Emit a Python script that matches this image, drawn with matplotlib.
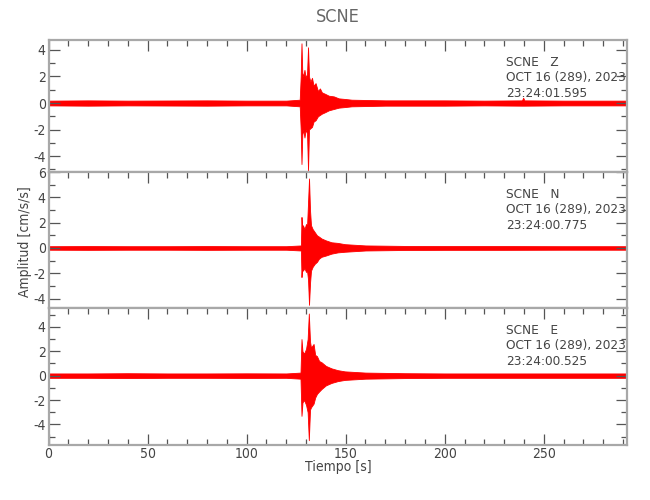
import matplotlib
matplotlib.use("Agg")
import matplotlib.pyplot as plt
from matplotlib.ticker import MultipleLocator

plt.rcParams['font.family'] = ['DejaVu Sans']
plt.rcParams['font.stretch'] = 'condensed'
plt.rcParams['axes.unicode_minus'] = False

station = "SCNE"
channels = ["Z", "N", "E"]
start_times = ["23:24:01.595", "23:24:00.775", "23:24:00.525"]
date_label = "OCT 16 (289), 2023"

# envelopes of the traces (time s, upper, lower in cm/s/s)
t_z = [0, 20, 40, 60, 80, 100, 120, 126.8, 127.3, 127.7, 128.1, 128.6, 129.2, 129.8, 130.5,
       131.0, 131.5, 132.2, 133.0, 133.8, 134.8, 136.0, 137.0, 138.0, 139.5, 141.5, 144.0,
       146.5, 150, 153, 170, 200, 220, 239.0, 239.6, 240.2, 260, 292]
up_z = [0.18, 0.2, 0.18, 0.19, 0.2, 0.18, 0.18, 0.25, 2.0, 4.5, 2.3, 2.0, 2.5, 1.9, 2.2,
        4.2, 2.0, 1.6, 1.9, 1.3, 1.5, 0.9, 1.1, 0.8, 0.7, 0.55, 0.5,
        0.35, 0.3, 0.25, 0.2, 0.2, 0.18, 0.2, 0.4, 0.2, 0.18, 0.18]
lo_z = [-0.18, -0.2, -0.18, -0.19, -0.2, -0.18, -0.18, -0.25, -2.0, -4.6, -2.4, -2.0, -2.6, -2.0, -2.3,
        -5.1, -2.0, -1.9, -1.8, -1.4, -1.3, -1.0, -0.9, -0.8, -0.7, -0.55, -0.45,
        -0.35, -0.3, -0.25, -0.2, -0.2, -0.18, -0.2, -0.2, -0.2, -0.18, -0.18]

t_n = [0, 20, 40, 60, 80, 100, 120, 127.4, 127.7, 128.0, 128.4, 129.2, 130.0, 130.5, 131.0,
       131.5, 132.0, 132.5, 133.3, 134.4, 135.5, 136.5, 137.8, 140.0, 142.8, 146.0, 149.6,
       160, 180, 200, 230, 260, 292]
up_n = [0.14, 0.15, 0.14, 0.14, 0.15, 0.14, 0.14, 0.2, 2.45, 1.6, 1.8, 1.5, 1.9, 1.7, 3.6,
        5.5, 3.0, 1.8, 1.5, 1.25, 1.0, 0.9, 0.75, 0.6, 0.45, 0.4, 0.3,
        0.2, 0.16, 0.15, 0.15, 0.14, 0.14]
lo_n = [-0.14, -0.15, -0.14, -0.14, -0.15, -0.14, -0.14, -0.2, -2.3, -1.6, -1.8, -1.6, -1.9, -1.8, -2.5,
        -4.5, -2.8, -1.8, -1.5, -1.25, -1.1, -0.85, -0.7, -0.6, -0.45, -0.35, -0.3,
        -0.2, -0.16, -0.15, -0.15, -0.14, -0.14]

t_e = [0, 20, 40, 60, 80, 100, 120, 127.2, 127.7, 128.2, 129.0, 130.0, 130.8, 131.4,
       132.0, 132.5, 133.8, 134.6, 135.5, 136.6, 137.8, 140.0, 142.8, 146.0, 149.6,
       160, 180, 200, 230, 260, 292]
up_e = [0.18, 0.18, 0.2, 0.18, 0.18, 0.19, 0.18, 0.25, 3.0, 2.0, 1.8, 2.2, 3.0, 5.1,
        2.8, 2.3, 2.6, 1.7, 1.6, 1.2, 1.1, 0.8, 0.6, 0.45, 0.35,
        0.25, 0.2, 0.18, 0.18, 0.18, 0.18]
lo_e = [-0.18, -0.18, -0.2, -0.18, -0.18, -0.19, -0.18, -0.25, -3.3, -2.2, -2.0, -2.4, -3.0, -5.3,
        -2.8, -2.6, -2.3, -1.8, -1.5, -1.3, -1.1, -0.8, -0.6, -0.45, -0.35,
        -0.25, -0.2, -0.18, -0.18, -0.18, -0.18]

traces = [(t_z, up_z, lo_z), (t_n, up_n, lo_n), (t_e, up_e, lo_e)]
ylims = [(-5.2, 4.75), (-4.75, 6.01), (-5.65, 5.55)]
t_max = 292

fig = plt.figure(figsize=(6.5, 5), dpi=100)
gs = fig.add_gridspec(3, 1, height_ratios=[132, 136, 136.5], hspace=0,
                      left=48.5/650, right=627/650, top=1-40/500, bottom=1-444.5/500)

spine_col = '#a8a8a8'
tick_col = '#555555'
text_col = '#444444'

for i in range(3):
    ax = fig.add_subplot(gs[i])
    t, up, lo = traces[i]
    ax.fill_between(t, lo, up, color='#ff0000', edgecolor='#ff0000', linewidth=0.6)
    ax.set_xlim(0, t_max)
    ax.set_ylim(*ylims[i])
    ax.xaxis.set_major_locator(MultipleLocator(50))
    ax.xaxis.set_minor_locator(MultipleLocator(10))
    ax.yaxis.set_major_locator(MultipleLocator(2))
    ax.yaxis.set_minor_locator(MultipleLocator(1))
    for s in ax.spines.values():
        s.set_color(spine_col)
        s.set_linewidth(1.6)
    last = (i == 2)
    ax.tick_params(which='both', direction='in', top=True, bottom=last, left=True, right=True,
                   labelbottom=last, color=tick_col, width=0.9, labelcolor=text_col,
                   labelsize=10)
    ax.tick_params(which='major', length=8, pad=2)
    ax.tick_params(which='minor', length=4.5)
    # station info block, offsets in pixels from the axes top
    h = ax.get_position().height * 500
    x0 = (506 - 48.5) / 578.5
    for k, line in enumerate([f"{station}   {channels[i]}", date_label, start_times[i]]):
        ax.text(x0, 1 - (22.5 + 15.5*k)/h, line, transform=ax.transAxes,
                ha='left', va='center', fontsize=9.7, color=text_col)

fig.text(338/650, 1-17/500, station, ha='center', va='center', fontsize=13, color='#666666')
fig.text(338/650, 1-467/500, "Tiempo [s]", ha='center', va='center', fontsize=10, color=text_col)
fig.text(25/650, 1-242/500, "Amplitud [cm/s/s]", ha='center', va='center', rotation=90,
         fontsize=10, color=text_col)

fig.savefig("out.png", dpi=100)
